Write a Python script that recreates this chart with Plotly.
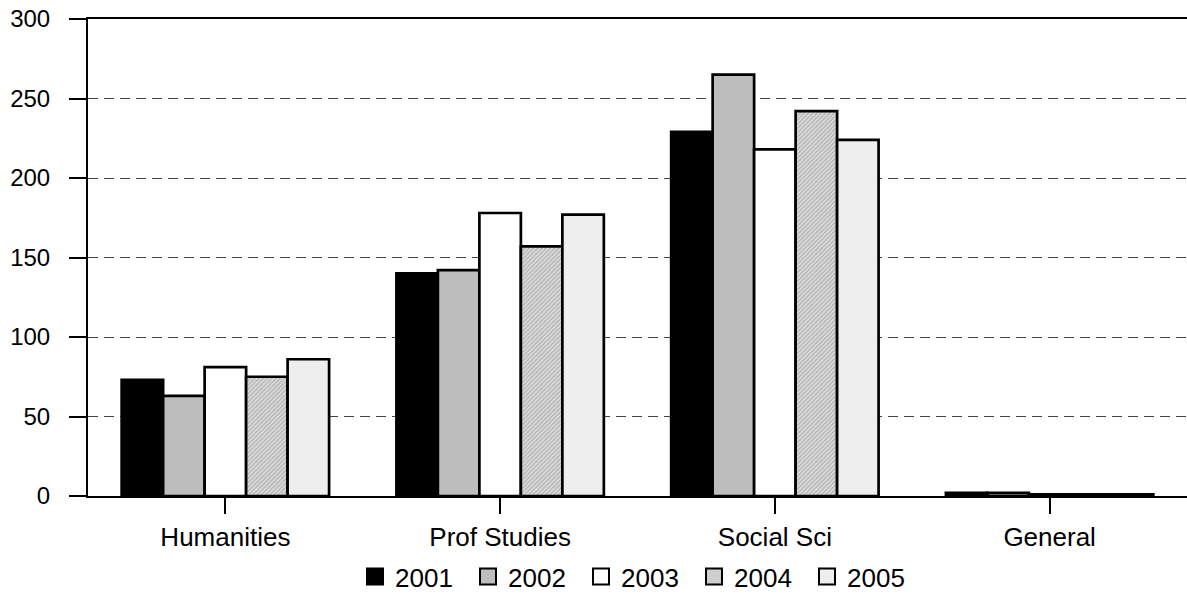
import plotly.graph_objects as go

categories = ["Humanities", "Prof Studies", "Social Sci", "General"]
years = ["2001", "2002", "2003", "2004", "2005"]
values = {
    "2001": [73, 140, 229, 2],
    "2002": [63, 142, 265, 2],
    "2003": [81, 178, 218, 1],
    "2004": [75, 157, 242, 1],
    "2005": [86, 177, 224, 1],
}
colors = {"2001": "#000000", "2002": "#bdbdbd", "2003": "#ffffff", "2004": "#cfcfcf", "2005": "#eeeeee"}

fig = go.Figure()
for y in years:
    marker = dict(color=colors[y], line=dict(color="black", width=2.7))
    if y == "2004":
        marker["pattern"] = dict(shape="/", size=3, solidity=0.45, fgcolor="#8a8a8a", bgcolor="#dcdcdc")
    fig.add_trace(go.Bar(name=y, x=categories, y=values[y], marker=marker, showlegend=False))

# legend entries (square swatches)
for y in years:
    fig.add_trace(go.Scatter(name=y, x=[None], y=[None], mode="markers",
                             marker=dict(symbol="square", size=16, color=colors[y],
                                         line=dict(color="black", width=2))))

fig.update_layout(
    width=1187, height=600,
    margin=dict(l=88, r=0, t=19, b=104),
    barmode="group", bargap=0.245, bargroupgap=0,
    plot_bgcolor="white", paper_bgcolor="white",
    font=dict(family="Liberation Sans, Arial, sans-serif", size=24, color="black"),
    showlegend=True,
    legend=dict(orientation="h", x=0.5, xanchor="center", y=-0.218, yanchor="bottom",
                font=dict(size=26), itemwidth=30, itemsizing="trace", tracegroupgap=0,
                entrywidth=68),
    xaxis=dict(showline=True, linecolor="black", linewidth=2, ticks="outside",
               ticklen=16, tickwidth=2, tickcolor="black", showgrid=False, mirror=True,
               tickfont=dict(size=26), ticklabelstandoff=1),
    yaxis=dict(range=[0, 300], tickvals=[0, 50, 100, 150, 200, 250, 300],
               showline=True, linecolor="black", linewidth=2, ticks="outside",
               ticklen=17, tickwidth=2, tickcolor="black",
               showgrid=True, gridcolor="#444444", griddash="10px,6px", gridwidth=1,
               zeroline=False, tickfont=dict(size=24), ticklabelstandoff=14),
)
fig.write_html("out.html", config={"displayModeBar": False},
               post_script="document.body.style.margin='0';")
